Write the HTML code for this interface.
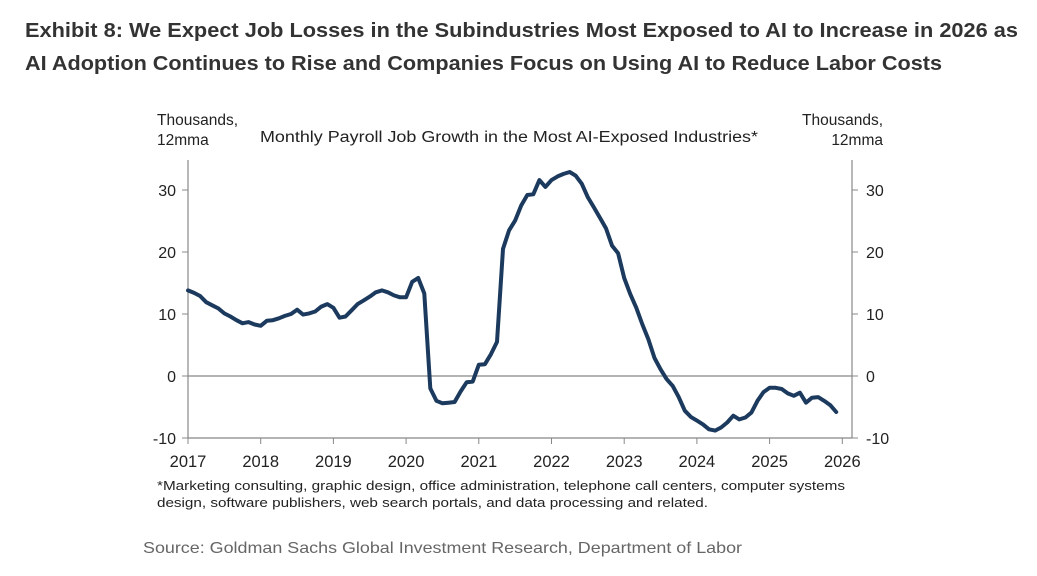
<!DOCTYPE html>
<html><head><meta charset="utf-8"><style>
body{margin:0;background:#fff;width:1037px;height:576px;overflow:hidden;font-family:"Liberation Sans",Arial,sans-serif}
svg{position:absolute;left:0;top:0}
</style></head><body>
<svg width="1037" height="576">
<g font-family="Liberation Sans, sans-serif" font-weight="bold" font-size="20.5" fill="#333">
<text x="25" y="37" textLength="993" lengthAdjust="spacingAndGlyphs">Exhibit 8: We Expect Job Losses in the Subindustries Most Exposed to AI to Increase in 2026 as</text>
<text x="25" y="70" textLength="917" lengthAdjust="spacingAndGlyphs">AI Adoption Continues to Rise and Companies Focus on Using AI to Reduce Labor Costs</text>
</g>
<g font-size="15.5" fill="#222">
<text x="157" y="125">Thousands,</text>
<text x="157" y="145">12mma</text>
<text x="260" y="142" textLength="498" lengthAdjust="spacingAndGlyphs">Monthly Payroll Job Growth  in the Most AI-Exposed Industries*</text>
<text x="883" y="125" text-anchor="end">Thousands,</text>
<text x="883" y="145" text-anchor="end">12mma</text>
</g>
<g id="axes"></g>
<path id="line" fill="none" stroke="#1c3a5e" stroke-width="4" stroke-linejoin="round" stroke-linecap="round"/>
<g font-size="13" fill="#222">
<text x="157" y="490" textLength="688" lengthAdjust="spacingAndGlyphs">*Marketing consulting, graphic design, office administration, telephone call centers, computer systems</text>
<text x="157" y="507" textLength="551" lengthAdjust="spacingAndGlyphs">design, software publishers, web search portals, and data processing and related.</text>
</g>
<text x="143" y="553" font-size="16" fill="#666" textLength="599" lengthAdjust="spacingAndGlyphs">Source: Goldman Sachs Global Investment Research, Department of Labor</text>
</svg>
<script>
const startYear = 2017;
const yTicks = [-10, 0, 10, 20, 30];
const xYears = [2017,2018,2019,2020,2021,2022,2023,2024,2025,2026];
const values = [13.8,13.4,12.9,11.9,11.4,10.9,10.1,9.6,9.0,8.5,8.7,8.3,
8.1,8.9,9.0,9.3,9.7,10.0,10.7,9.9,10.1,10.4,11.2,11.6,
11.0,9.4,9.6,10.6,11.6,12.2,12.8,13.5,13.8,13.5,13.0,12.7,
12.7,15.2,15.8,13.3,-2.0,-4.0,-4.4,-4.3,-4.2,-2.5,-1.0,-0.9,
1.8,1.9,3.5,5.5,20.5,23.5,25.1,27.5,29.2,29.3,31.6,30.5,
31.6,32.2,32.6,32.9,32.3,31.0,28.8,27.2,25.5,23.8,21.0,19.8,
15.8,13.2,11.0,8.3,5.9,2.9,1.1,-0.5,-1.6,-3.4,-5.6,-6.6,
-7.2,-7.8,-8.6,-8.8,-8.3,-7.5,-6.4,-7.0,-6.7,-5.9,-4.0,-2.6,
-1.9,-1.9,-2.1,-2.8,-3.2,-2.7,-4.3,-3.5,-3.4,-4.0,-4.7,-5.8];
const X0=188, X1=852, YTOP=160, YBOT=438;
function xs(t){return 188+(t-2017)*72.7;}
function ys(v){return 376-v*6.2;}
const NS='http://www.w3.org/2000/svg';
const ax=document.getElementById('axes');
function mk(tag,attrs,parent){const e=document.createElementNS(NS,tag);for(const k in attrs)e.setAttribute(k,attrs[k]);(parent||ax).appendChild(e);return e;}
let l=mk('line',{x1:X0,y1:YTOP,x2:X0,y2:YBOT,stroke:'#888','stroke-width':1.2});


l=mk('line',{x1:X1,y1:YTOP,x2:X1,y2:YBOT,stroke:'#888','stroke-width':1.2});


l=mk('line',{x1:X0,y1:YBOT,x2:X1,y2:YBOT,stroke:'#888','stroke-width':1.2});


l=mk('line',{x1:X0,y1:ys(0),x2:X1,y2:ys(0),stroke:'#888','stroke-width':1.2});


yTicks.forEach(v=>{
  const y=ys(v);
  mk('line',{x1:X0-6,y1:y,x2:X0,y2:y,stroke:'#888'});
  mk('line',{x1:X1,y1:y,x2:X1+6,y2:y,stroke:'#888'});
  let t=mk('text',{x:176,y:y+6,'text-anchor':'end','font-size':16,fill:'#222'});t.textContent=v;
  
  
  t=mk('text',{x:866,y:y+6,'font-size':16,fill:'#222'});t.textContent=v;
  
  
});
xYears.forEach(yr=>{
  const x=xs(yr);
  mk('line',{x1:x,y1:YBOT,x2:x,y2:YBOT+6,stroke:'#888'});
  const t=mk('text',{x:x,y:467,'text-anchor':'middle','font-size':16.5,fill:'#222'});t.textContent=yr;
  
  
});
const d=values.map((v,i)=>(i?'L':'M')+xs(startYear+i/12).toFixed(1)+','+ys(v).toFixed(1)).join(' ');
document.getElementById('line').setAttribute('d',d);
</script>
</body></html>
